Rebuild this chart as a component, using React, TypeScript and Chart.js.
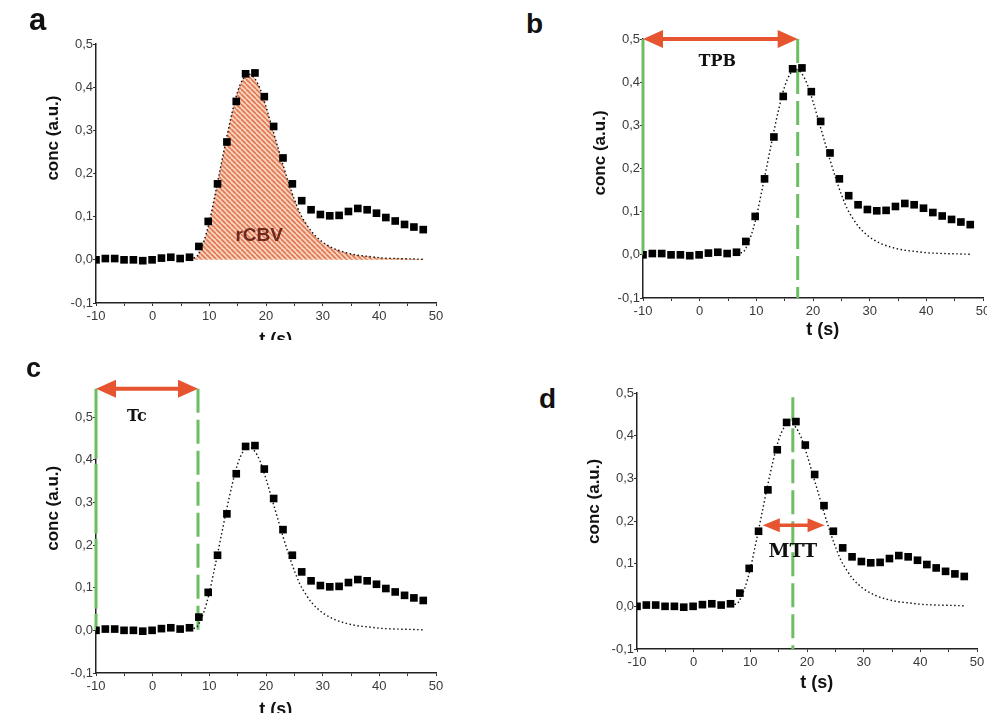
import React, { useEffect, useRef } from 'react';
import { Chart, registerables } from 'chart.js';
Chart.register(...registerables);

// ---- data ----
const T_POINTS = [-10, -8.35, -6.7, -5.05, -3.4, -1.75, -0.1, 1.55, 3.2, 4.85, 6.5, 8.15, 9.8, 11.45, 13.1, 14.75, 16.4, 18.05, 19.7, 21.35, 23.0, 24.65, 26.3, 27.95, 29.6, 31.25, 32.9, 34.55, 36.2, 37.85, 39.5, 41.15, 42.8, 44.45, 46.1, 47.75];
const C_POINTS = [0.0, 0.003, 0.003, 0.0, 0.0, -0.002, 0.0, 0.004, 0.006, 0.003, 0.006, 0.031, 0.089, 0.176, 0.273, 0.367, 0.431, 0.433, 0.378, 0.309, 0.236, 0.176, 0.137, 0.116, 0.105, 0.102, 0.103, 0.112, 0.119, 0.116, 0.108, 0.098, 0.09, 0.082, 0.076, 0.07];

const T_FIT = [6.5, 7.6, 8.0, 8.5, 9.0, 9.5, 10.0, 11.0, 12.0, 13.0, 14.0, 15.0, 16.0, 17.0, 18.0, 19.0, 20.0, 21.0, 22.0, 23.0, 24.0, 25.0, 26.0, 27.0, 28.0, 29.0, 30.0, 32.0, 34.0, 36.0, 38.0, 40.0, 43.0, 46.0, 48.0];
const C_FIT = [0.005, 0.005, 0.012, 0.025, 0.042, 0.063, 0.088, 0.15, 0.215, 0.28, 0.34, 0.39, 0.42, 0.43, 0.42, 0.395, 0.355, 0.31, 0.265, 0.22, 0.178, 0.14, 0.108, 0.085, 0.066, 0.052, 0.041, 0.026, 0.017, 0.011, 0.008, 0.005, 0.003, 0.002, 0.001];

const X_MIN = -10;
const X_MAX = 50;
const Y_MIN = -0.1;
const Y_MAX = 0.5;
const X_TITLE = 't (s)';
const Y_TITLE = 'conc (a.u.)';
const X_TITLE_AT = 21.7; // t value under which the x title is centred

// annotation values (data units)
const TPB_RANGE = [-10, 17.3];
const TPB_Y = 0.5;
const TC_RANGE = [-10, 8];
const TC_Y = 0.566;
const MTT_RANGE = [12.2, 23.1];
const MTT_Y = 0.19;
const MTT_LINE_X = 17.5;
const MTT_LINE_TOP = 0.49;
const RCBV_TAIL_START = 34;

const LABEL_RCBV = { text: 'rCBV', x: 18.8, y: 0.056 };
const LABEL_TPB = { text: 'TPB', x: 3.1, y: 0.447 };
const LABEL_TC = { text: 'Tc', x: -2.8, y: 0.5 };
const LABEL_MTT = { text: 'MTT', x: 17.5, y: 0.128 };

// ---- layout ----
const Y_W = 60;
const X_H = 50;
const PAD_T = 60;
const PAD_R = 20;
const SANS = '"Liberation Sans", Arial, sans-serif';
const SERIF = '"DejaVu Serif", "Liberation Serif", serif';
const GREEN = '#6dbd63';
const RED = '#e6552f';

type GLine = { x: number; y1: number; y2: number; dash: number[] };
type Arrow = { x1: number; x2: number; y: number; head: number; half: number; shaft: number };
type Lbl = { text: string; x: number; y: number; font: string; color: string };

type Spec = {
  key: string;
  letter: string;
  letterPos: [number, number, number];
  L: number; R: number; T: number; B: number;
  clipBottom?: number;
  xTitleOffset: number;
  yTitleAt: number;
  hatch?: boolean;
  lines: GLine[];
  arrows: Arrow[];
  labels: Lbl[];
};

const SPECS: Spec[] = [
  {
    key: 'a', letter: 'a', letterPos: [29, 4, 31],
    L: 96, R: 436, T: 44, B: 303, clipBottom: 340, xTitleOffset: 37, yTitleAt: 0.282, hatch: true,
    lines: [], arrows: [],
    labels: [{ ...LABEL_RCBV, font: `bold 19px ${SANS}`, color: '#6e2a1f' }],
  },
  {
    key: 'b', letter: 'b', letterPos: [526, 10, 28],
    L: 643, R: 983, T: 39, B: 298, xTitleOffset: 32, yTitleAt: 0.236,
    lines: [
      { x: TPB_RANGE[0], y1: TPB_Y, y2: 0.0, dash: [] },
      { x: TPB_RANGE[1], y1: TPB_Y, y2: Y_MIN, dash: [24, 7] },
    ],
    arrows: [{ x1: TPB_RANGE[0], x2: TPB_RANGE[1], y: TPB_Y, head: 20, half: 9, shaft: 4 }],
    labels: [{ ...LABEL_TPB, font: `bold 16px ${SERIF}`, color: '#111' }],
  },
  {
    key: 'c', letter: 'c', letterPos: [26, 355, 27],
    L: 96, R: 436, T: 417, B: 673, xTitleOffset: 37, yTitleAt: 0.286,
    lines: [
      { x: TC_RANGE[0], y1: TC_Y, y2: 0.0, dash: [70, 5] },
      { x: TC_RANGE[1], y1: TC_Y, y2: 0.0, dash: [24, 7] },
    ],
    arrows: [{ x1: TC_RANGE[0], x2: TC_RANGE[1], y: TC_Y, head: 20, half: 9, shaft: 4 }],
    labels: [{ ...LABEL_TC, font: `bold 16px ${SERIF}`, color: '#111' }],
  },
  {
    key: 'd', letter: 'd', letterPos: [539, 385, 28],
    L: 637, R: 977, T: 393, B: 649, xTitleOffset: 34, yTitleAt: 0.246,
    lines: [{ x: MTT_LINE_X, y1: MTT_LINE_TOP, y2: Y_MIN, dash: [24, 7] }],
    arrows: [{ x1: MTT_RANGE[0], x2: MTT_RANGE[1], y: MTT_Y, head: 17, half: 7, shaft: 3.5 }],
    labels: [{ ...LABEL_MTT, font: `bold 19px ${SERIF}`, color: '#111' }],
  },
];

function makeHatch(bg: string, fg: string): CanvasPattern | string {
  const c = document.createElement('canvas');
  const s = 5;
  c.width = s; c.height = s;
  const g = c.getContext('2d');
  if (!g) return bg;
  g.fillStyle = bg;
  g.fillRect(0, 0, s, s);
  g.strokeStyle = fg;
  g.lineWidth = 1.6;
  for (let k = -1; k <= 1; k++) {
    g.beginPath();
    g.moveTo(k * s, 0);
    g.lineTo(k * s + s, s);
    g.stroke();
  }
  const p = g.createPattern(c, 'repeat');
  return p || bg;
}

function drawArrow(ctx: CanvasRenderingContext2D, x1: number, x2: number, y: number, a: Arrow) {
  ctx.save();
  ctx.fillStyle = RED;
  ctx.strokeStyle = RED;
  ctx.lineWidth = a.shaft;
  ctx.beginPath();
  ctx.moveTo(x1 + a.head - 2, y);
  ctx.lineTo(x2 - a.head + 2, y);
  ctx.stroke();
  ctx.beginPath();
  ctx.moveTo(x1, y);
  ctx.lineTo(x1 + a.head, y - a.half);
  ctx.lineTo(x1 + a.head, y + a.half);
  ctx.closePath();
  ctx.fill();
  ctx.beginPath();
  ctx.moveTo(x2, y);
  ctx.lineTo(x2 - a.head, y - a.half);
  ctx.lineTo(x2 - a.head, y + a.half);
  ctx.closePath();
  ctx.fill();
  ctx.restore();
}

function Panel({ spec }: { spec: Spec }) {
  const ref = useRef<HTMLCanvasElement>(null);
  const W = Y_W + (spec.R - spec.L) + PAD_R;
  const H = PAD_T + (spec.B - spec.T) + X_H;
  const left = spec.L - Y_W;
  const top = spec.T - PAD_T;
  const clipH = spec.clipBottom ? spec.clipBottom - top : H;

  useEffect(() => {
    if (!ref.current) return;
    const pointData = T_POINTS.map((t, i) => ({ x: t, y: C_POINTS[i] }));
    const fitData = T_FIT.map((t, i) => ({ x: t, y: C_FIT[i] }));
    const tailData = fitData.filter((p) => p.x >= RCBV_TAIL_START);

    const annot = {
      id: 'annot_' + spec.key,
      beforeDatasetsDraw(chart: any) {
        const { ctx, scales } = chart;
        const xs = scales.x, ys = scales.y;
        ctx.save();
        ctx.strokeStyle = GREEN;
        ctx.lineWidth = 3;
        for (const l of spec.lines) {
          const px = xs.getPixelForValue(l.x);
          ctx.setLineDash(l.dash);
          ctx.beginPath();
          ctx.moveTo(px, ys.getPixelForValue(l.y1));
          ctx.lineTo(px, ys.getPixelForValue(l.y2));
          ctx.stroke();
        }
        ctx.restore();
      },
      afterDatasetsDraw(chart: any) {
        const { ctx, scales, chartArea } = chart;
        const xs = scales.x, ys = scales.y;
        for (const a of spec.arrows) {
          drawArrow(ctx, xs.getPixelForValue(a.x1), xs.getPixelForValue(a.x2), ys.getPixelForValue(a.y), a);
        }
        ctx.save();
        ctx.textAlign = 'center';
        ctx.textBaseline = 'middle';
        for (const l of spec.labels) {
          ctx.font = l.font;
          ctx.fillStyle = l.color;
          ctx.fillText(l.text, xs.getPixelForValue(l.x), ys.getPixelForValue(l.y));
        }
        // axis titles
        ctx.fillStyle = '#111';
        ctx.font = `bold 18px ${SANS}`;
        ctx.fillText(X_TITLE, xs.getPixelForValue(X_TITLE_AT), chartArea.bottom + spec.xTitleOffset);
        ctx.font = `bold 17px ${SANS}`;
        ctx.translate(chartArea.left - 43, ys.getPixelForValue(spec.yTitleAt));
        ctx.rotate(-Math.PI / 2);
        ctx.fillText(Y_TITLE, 0, 0);
        ctx.restore();
      },
    };

    const datasets: any[] = [
      {
        label: 'measured',
        data: pointData,
        showLine: false,
        pointStyle: 'rect',
        pointRadius: 5.4,
        pointBackgroundColor: '#000',
        pointBorderWidth: 0,
        borderColor: '#000',
        backgroundColor: '#000',
      },
      {
        label: 'fit',
        data: fitData,
        borderColor: '#111',
        borderWidth: 1.4,
        borderDash: [1.5, 2.5],
        pointRadius: 0,
        cubicInterpolationMode: 'monotone',
        fill: spec.hatch ? 'origin' : false,
        backgroundColor: spec.hatch ? makeHatch('#fad4be', '#e07652') : 'transparent',
      },
    ];
    if (spec.hatch) {
      datasets.push({
        label: 'tail',
        data: tailData,
        borderWidth: 0,
        borderColor: 'transparent',
        pointRadius: 0,
        cubicInterpolationMode: 'monotone',
        fill: 'origin',
        backgroundColor: makeHatch('#fbeab8', '#e7c27a'),
      });
    }

    const tickFont = { family: SANS, size: 13 };
    const chart = new Chart(ref.current, {
      type: 'line',
      data: { datasets },
      options: {
        responsive: false,
        animation: false,
        events: [],
        layout: { padding: { top: PAD_T, right: PAD_R, left: 0, bottom: 0 } },
        plugins: { legend: { display: false }, tooltip: { enabled: false } },
        scales: {
          x: {
            type: 'linear',
            min: X_MIN,
            max: X_MAX,
            afterFit: (s: any) => { s.height = X_H; s.paddingLeft = 0; s.paddingRight = 0; },
            ticks: {
              stepSize: 5,
              autoSkip: false,
              maxRotation: 0,
              padding: 3,
              color: '#3a3a3a',
              font: tickFont,
              callback: (v: any) => (Math.round(Number(v)) % 10 === 0 ? String(Math.round(Number(v))) : ''),
            },
            grid: { display: true, drawOnChartArea: false, drawTicks: true, tickLength: 3, color: '#333' },
            border: { display: true, color: '#222', width: 1.5 },
            title: { display: false, text: X_TITLE },
          },
          y: {
            type: 'linear',
            min: Y_MIN,
            max: Y_MAX,
            afterFit: (s: any) => { s.width = Y_W; s.paddingTop = 0; s.paddingBottom = 0; },
            ticks: {
              stepSize: 0.1,
              padding: 0,
              color: '#3a3a3a',
              font: tickFont,
              callback: (v: any) => {
                const n = Math.abs(Number(v)) < 1e-9 ? 0 : Number(v);
                return n.toFixed(1).replace('.', ',');
              },
            },
            grid: { display: true, drawOnChartArea: false, drawTicks: true, tickLength: 3, color: '#333' },
            border: { display: true, color: '#222', width: 1.5 },
            title: { display: false, text: Y_TITLE },
          },
        },
      } as any,
      plugins: [annot],
    });
    return () => chart.destroy();
  }, []);

  return (
    <>
      <div style={{ position: 'absolute', left, top, width: W, height: clipH, overflow: 'hidden' }}>
        <canvas ref={ref} width={W} height={H} style={{ width: W, height: H, display: 'block' }} />
      </div>
      <div
        style={{
          position: 'absolute',
          left: spec.letterPos[0],
          top: spec.letterPos[1],
          fontFamily: SANS,
          fontWeight: 'bold',
          fontSize: spec.letterPos[2],
          lineHeight: 1,
          color: '#111',
        }}
      >
        {spec.letter}
      </div>
    </>
  );
}

export default function App() {
  return (
    <div style={{ position: 'fixed', left: 0, top: 0, width: 987, height: 713, overflow: 'hidden', background: '#fff' }}>
      {SPECS.map((s) => (
        <Panel key={s.key} spec={s} />
      ))}
    </div>
  );
}
